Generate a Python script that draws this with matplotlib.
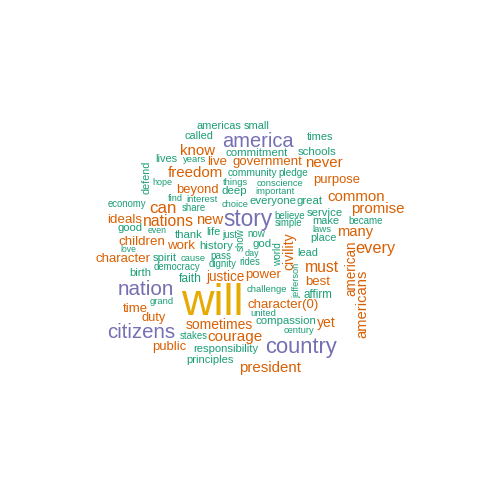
import matplotlib
matplotlib.use("Agg")
import matplotlib.pyplot as plt

# word cloud data: words and their relative weights (rendered size)
words = ["americas", "small", "called", "america", "times", "commitment", "schools", "know",
         "lives", "years", "live", "government", "never", "freedom", "community", "pledge",
         "defend", "hope", "purpose", "things", "conscience", "beyond", "deep", "important",
         "find", "interest", "economy", "can", "share", "choice", "everyone", "great",
         "common", "promise", "ideals", "nations", "new", "story", "believe", "simple",
         "service", "make", "became", "laws", "place", "many", "good", "even", "thank",
         "life", "just", "show", "now", "god", "day", "rides", "world", "civility", "lead",
         "every", "american", "americans", "must", "best", "jefferson", "affirm", "yet",
         "challenge", "character(0)", "united", "compassion", "century", "country",
         "president", "power", "justice", "history", "pass", "dignity", "cause", "spirit",
         "democracy", "faith", "children", "work", "love", "character", "birth", "nation",
         "will", "time", "grand", "duty", "citizens", "sometimes", "stakes", "courage",
         "public", "responsibility", "principles"]
weights = [11, 11, 11, 20, 11, 11.4, 11.5, 15,
           11, 9.5, 13.3, 13.3, 15, 15, 10.3, 10,
           10.8, 9, 13, 9.4, 9.4, 13, 11.5, 9.4,
           9.3, 9.5, 9.6, 17, 9.6, 9.4, 11.4, 11.4,
           15, 15, 13.4, 15.8, 14.7, 22.6, 9.8, 9.7,
           11.4, 11, 9.8, 9.5, 10.9, 14.7, 11.2, 8.8, 11.4,
           11, 9.6, 9.8, 9.8, 11.4, 9, 9.7, 10, 14, 11,
           16.4, 13.5, 14.7, 15.7, 13.2, 9.2, 11.6, 14,
           9.5, 13.2, 9.5, 11.4, 9.4, 22,
           15, 13.2, 13.5, 11.5, 10, 9.7, 9.4, 11.4,
           9.6, 12, 13.4, 13.3, 8.7, 13.2, 11.3, 20.6,
           45, 13.2, 9.4, 12.7, 20.4, 13.9, 9.7, 15.2,
           13, 11.2, 11.1]

# layout (pixel positions of word centres in the 480x480 image) and orientation
pos_x = [218.5, 257, 198.5, 257.5, 320, 257, 317.5, 197.5,
         166, 194.5, 217, 267, 324, 195.5, 252.5, 293,
         147, 162, 336.5, 235.5, 279.5, 197, 234.5, 275.5,
         175.5, 202.5, 126.5, 162.5, 194, 235.5, 273.5, 310,
         356.5, 377.5, 124.5, 168.5, 209.5, 247.5, 289.5, 288,
         325, 325.5, 365.5, 322, 323, 355, 129.5, 157.5, 189,
         213, 229.5, 241, 256, 262.5, 251.5, 249.5, 278, 289, 307.5,
         375, 351, 362, 322, 317.5, 297, 317.5, 326.5,
         267, 283.5, 263, 285.5, 298.5, 301,
         270, 263.5, 225.5, 216, 220.5, 223, 193.5, 165,
         176.5, 190.5, 141.5, 181, 128, 123.5, 140, 146,
         212, 135.5, 162, 154, 141, 219.5, 194, 235.5,
         169, 225.5, 209.5]
pos_y = [125, 125, 135, 140, 136, 152, 151, 150,
         158, 159, 160, 160, 162, 172, 172, 172,
         177, 182, 178, 182, 183, 188, 190, 191,
         198, 199, 204, 207, 208, 204, 200, 200,
         196, 208, 218, 220, 219, 218, 215, 223,
         212, 220, 220, 229, 237, 231, 227, 230, 234,
         231, 235, 240, 233, 243, 253, 262, 254, 251, 252,
         247, 268, 304, 266, 280, 280, 294, 322,
         289, 303, 313, 320, 330, 345,
         367, 273, 276, 245, 255, 264, 258, 257,
         267, 278, 240, 244, 249, 257, 272, 288,
         299, 307, 301, 316, 331, 324, 336, 336,
         345, 348, 359]
vertical = {"defend", "show", "world", "civility", "jefferson", "american", "americans"}

palette = ["#1B9E77", "#D95F02", "#7570B3", "#E6AB02"]


def word_color(w):
    if w < 12.5:
        return palette[0]
    if w < 19:
        return palette[1]
    if w < 30:
        return palette[2]
    return palette[3]


W = H = 480
DPI = 100
fig = plt.figure(figsize=(W / DPI, H / DPI), dpi=DPI)
ax = fig.add_axes([0, 0, 1, 1])
ax.set_xlim(0, W)
ax.set_ylim(H, 0)
ax.axis("off")

px_to_pt = 72.0 / DPI
for wd, wt, x, y in zip(words, weights, pos_x, pos_y):
    fs = wt * px_to_pt
    col = word_color(wt)
    if wd in vertical:
        ax.text(x, y, wd, fontsize=fs, color=col, rotation=90,
                ha="center", va="center", family=["Liberation Sans", "DejaVu Sans"])
    else:
        ax.text(x, y + 0.36 * wt, wd, fontsize=fs, color=col,
                ha="center", va="baseline", family=["Liberation Sans", "DejaVu Sans"])

fig.savefig("out.png", dpi=DPI, facecolor="white")
